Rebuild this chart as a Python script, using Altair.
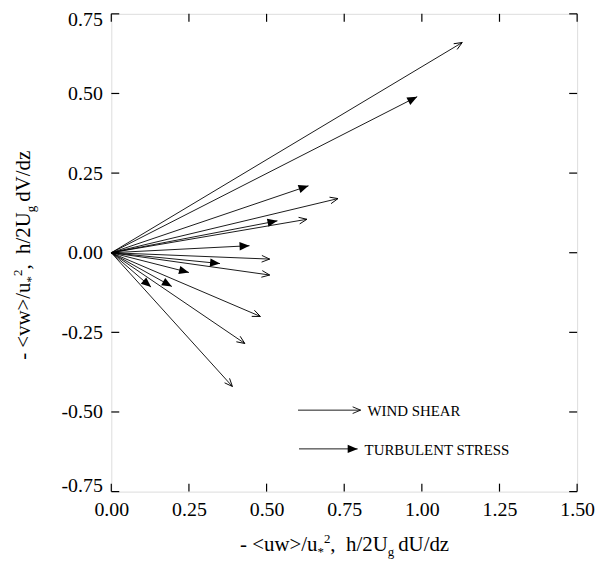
import math
import altair as alt
import pandas as pd

# ---- data ----
shear_x = [1.13, 0.73, 0.63, 0.51, 0.51, 0.48, 0.43, 0.39]
shear_y = [0.66, 0.17, 0.105, -0.02, -0.07, -0.20, -0.285, -0.42]
stress_x = [0.985, 0.635, 0.535, 0.445, 0.35, 0.25, 0.195, 0.128]
stress_y = [0.49, 0.21, 0.10, 0.022, -0.034, -0.062, -0.106, -0.108]
x_ticks = [0, 0.25, 0.5, 0.75, 1.0, 1.25, 1.5]
y_ticks = [-0.75, -0.5, -0.25, 0, 0.25, 0.5, 0.75]
legend_labels = ["WIND SHEAR", "TURBULENT STRESS"]
NB = "\u00a0"
x_title_parts = [("-" + NB + "<uw>/u", "n"), ("*", "sub"), ("2", "sup"),
                 ("," + NB + NB + "h/2U", "n"), ("g", "sub"), (NB + "dU/dz", "n")]
y_title_parts = [("-" + NB + "<vw>/u", "n"), ("*", "sub"), ("2", "sup"),
                 ("," + NB + NB + "h/2U", "n"), ("g", "sub"), (NB + "dV/dz", "n")]

W, H = 469, 481
FONT = "Liberation Serif"
XD = [0, 1.5]
YD = [-0.75, 0.75]
kx = W / (XD[1] - XD[0])
ky = H / (YD[1] - YD[0])


def ang(x, y):
    return (math.degrees(math.atan2(-y * ky, x * kx)) + 360) % 360


def make_df(xs, ys):
    return pd.DataFrame({"x0": 0.0, "y0": 0.0, "x": xs, "y": ys,
                         "ang": [ang(a, b) for a, b in zip(xs, ys)]})


shear = make_df(shear_x, shear_y)
stress = make_df(stress_x, stress_y)
one = pd.DataFrame({"k": [0]})

xs = alt.Scale(domain=XD, nice=False, zero=False)
ys = alt.Scale(domain=YD, nice=False, zero=False)

OPEN_HEAD = "M-1,-0.42L0,0L-1,0.42"
FILLED_HEAD = "M0,0L-1,-0.42L-1,0.42Z"

LBL = "datum.value < 0 ? '-' + format(-datum.value, '.2f') : format(datum.value, '.2f')"
xaxis = alt.Axis(values=x_ticks, labelExpr=LBL, domain=False, ticks=False, tickSize=0,
                 grid=False, labelFont=FONT, labelFontSize=20, labelColor="black",
                 labelPadding=8, title=None, labelFlush=False)
yaxis = alt.Axis(values=y_ticks, labelExpr=LBL, domain=False, ticks=False, tickSize=0,
                 grid=False, labelFont=FONT, labelFontSize=20, labelColor="black",
                 labelPadding=9, title=None, labelFlush=True, labelFlushOffset=4)


def lines(df):
    return alt.Chart(df).mark_rule(color="black", strokeWidth=0.9).encode(
        x=alt.X("x0:Q", scale=xs, axis=xaxis), x2="x:Q",
        y=alt.Y("y0:Q", scale=ys, axis=yaxis), y2="y:Q")


def heads(df, shape, filled, size):
    return alt.Chart(df).mark_point(shape=shape, filled=filled, color="black",
                                    strokeWidth=0.9, size=size, opacity=1).encode(
        x=alt.X("x:Q", scale=xs), y=alt.Y("y:Q", scale=ys),
        angle=alt.Angle("ang:Q", scale=None))


layers = [lines(shear), lines(stress),
          heads(shear, OPEN_HEAD, False, 256),
          heads(stress, FILLED_HEAD, True, 400)]

# inward ticks on all four sides
xt = pd.DataFrame({"v": x_ticks})
yt = pd.DataFrame({"v": y_ticks})
TL = 8
layers.append(alt.Chart(xt).mark_rule(color="black", strokeWidth=1.2).encode(
    x=alt.X("v:Q", scale=xs), y=alt.value(H), y2=alt.value(H - TL)))
layers.append(alt.Chart(xt).mark_rule(color="black", strokeWidth=1.2).encode(
    x=alt.X("v:Q", scale=xs), y=alt.value(0), y2=alt.value(TL)))
layers.append(alt.Chart(yt).mark_rule(color="black", strokeWidth=1.2).encode(
    y=alt.Y("v:Q", scale=ys), x=alt.value(0), x2=alt.value(TL)))
layers.append(alt.Chart(yt).mark_rule(color="black", strokeWidth=1.2).encode(
    y=alt.Y("v:Q", scale=ys), x=alt.value(W), x2=alt.value(W - TL)))

# manual legend
leg_y = [399, 438]
leg_x0 = [188, 189]
leg_x1 = [251, 248]
for i, (lab, shape, filled, size) in enumerate([
        (legend_labels[0], OPEN_HEAD, False, 256),
        (legend_labels[1], FILLED_HEAD, True, 400)]):
    layers.append(alt.Chart(one).mark_rule(color="black", strokeWidth=0.9).encode(
        x=alt.value(leg_x0[i]), x2=alt.value(leg_x1[i]), y=alt.value(leg_y[i])))
    layers.append(alt.Chart(one).mark_point(shape=shape, filled=filled, color="black",
                                            strokeWidth=0.9, size=size, opacity=1).encode(
        x=alt.value(leg_x1[i]), y=alt.value(leg_y[i]), angle=alt.value(0)))
    layers.append(alt.Chart(one).mark_text(text=lab, font=FONT, fontSize=15, align="left",
                                           fontWeight="normal",
                                           baseline="middle", color="black").encode(
        x=alt.value(leg_x1[i] + 7), y=alt.value(leg_y[i] + 1)))

# axis titles built from pieces (sub/superscripts)
TWD = {'-': 0.333, ' ': 0.25, NB: 0.25, '<': 0.564, '>': 0.564, 'u': 0.5, 'w': 0.722,
       'v': 0.5, '/': 0.278, '*': 0.5, '2': 0.5, ',': 0.25, 'h': 0.5, 'U': 0.722,
       'V': 0.722, 'g': 0.5, 'd': 0.5, 'z': 0.444}
MAIN, SMALL = 21, 13
SHIFT = {"n": 0, "sub": 5, "sup": -8}
GAP_AFTER = {"g": 4}


def tw(s, size):
    return sum(TWD.get(c, 0.5) for c in s) * size + GAP_AFTER.get(s, 0)


def psize(kind):
    return MAIN if kind == "n" else SMALL


tot = sum(tw(t, psize(k)) for t, k in x_title_parts)
cur = W / 2 - tot / 2 + 3
XB = 541
for t, k in x_title_parts:
    layers.append(alt.Chart(one).mark_text(text=t, font=FONT, fontSize=psize(k), align="left",
                                           fontWeight="normal",
                                           baseline="alphabetic", color="black").encode(
        x=alt.value(cur), y=alt.value(XB + SHIFT[k])))
    cur += tw(t, psize(k))

tot = sum(tw(t, psize(k)) for t, k in y_title_parts)
cur = H / 2 + tot / 2
YB = -82
for t, k in y_title_parts:
    layers.append(alt.Chart(one).mark_text(text=t, font=FONT, fontSize=psize(k), align="left",
                                           fontWeight="normal",
                                           baseline="alphabetic", angle=270, color="black").encode(
        x=alt.value(YB + SHIFT[k]), y=alt.value(cur)))
    cur -= tw(t, psize(k))

chart = alt.layer(*layers).properties(
    width=W, height=H,
    autosize=alt.AutoSizeParams(type="none"),
    padding={"left": 104, "top": 4, "right": 20, "bottom": 70},
).configure_view(stroke="black", strokeWidth=1.6).configure(background="white")

chart.save("out.html", embed_options={"renderer": "svg", "actions": False})
